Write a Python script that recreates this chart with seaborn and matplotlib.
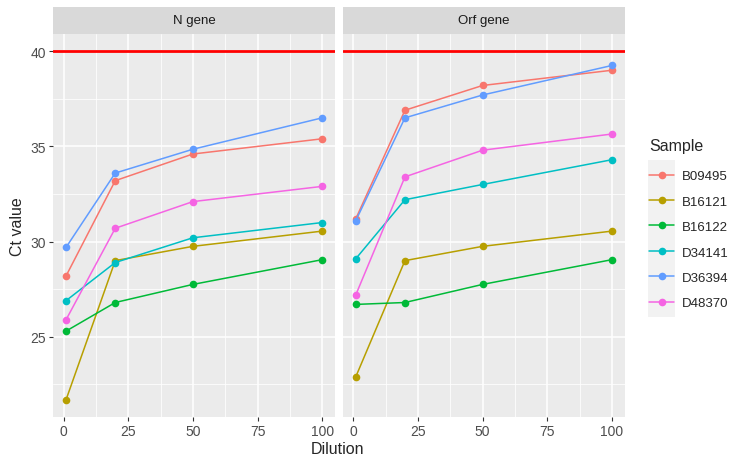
import matplotlib
matplotlib.use("Agg")
import matplotlib.pyplot as plt
import numpy as np
import pandas as pd
import seaborn as sns
from matplotlib.patches import Rectangle
from matplotlib.ticker import MultipleLocator

# ---- data -----------------------------------------------------------------------
dilution = [1, 20, 50, 100]
samples = ['B09495', 'B16121', 'B16122', 'D34141', 'D36394', 'D48370']
genes = ['N gene', 'Orf gene']

n_gene_ct = {
    'B09495': [28.2, 33.2, 34.6, 35.4],
    'B16121': [21.7, 29.0, 29.75, 30.55],
    'B16122': [25.3, 26.8, 27.75, 29.05],
    'D34141': [26.9, 28.9, 30.2, 31.0],
    'D36394': [29.7, 33.6, 34.85, 36.5],
    'D48370': [25.9, 30.7, 32.1, 32.9],
}
orf_gene_ct = {
    'B09495': [31.2, 36.9, 38.2, 39.0],
    'B16121': [22.9, 29.0, 29.75, 30.55],
    'B16122': [26.7, 26.8, 27.75, 29.05],
    'D34141': [29.1, 32.2, 33.0, 34.3],
    'D36394': [31.1, 36.5, 37.7, 39.25],
    'D48370': [27.2, 33.4, 34.8, 35.65],
}
ct_cutoff = 40

palette = ['#F8766D', '#B79F00', '#00BA38', '#00BFC4', '#619CFF', '#F564E3']

rows = []
for gene, table in zip(genes, [n_gene_ct, orf_gene_ct]):
    for s in samples:
        for d, ct in zip(dilution, table[s]):
            rows.append({'Gene': gene, 'Sample': s, 'Dilution': d, 'Ct': ct})
df = pd.DataFrame(rows)

# ---- figure ---------------------------------------------------------------------
sns.set_theme(style='darkgrid')
plt.rcParams['font.family'] = ['Liberation Sans', 'DejaVu Sans']

W, H = 730, 456
fig = plt.figure(figsize=(W / 100, H / 100), dpi=100)


def px_box(x0, y0, x1, y1):
    return [x0 / W, 1 - y1 / H, (x1 - x0) / W, (y1 - y0) / H]


panels = [(53.3, 335.0), (343.0, 624.7)]
ymin, ymax = 20.77, 40.92
xmin, xmax = -3.95, 104.95

for i, (gene, (x0, x1)) in enumerate(zip(genes, panels)):
    ax = fig.add_axes(px_box(x0, 34.7, x1, 418.3))
    ax.set_facecolor('#EBEBEB')
    sub = df[df['Gene'] == gene]
    ax.axhline(ct_cutoff, color='#FF0000', lw=2.0, zorder=2)
    sns.lineplot(data=sub, x='Dilution', y='Ct', hue='Sample', hue_order=samples,
                 palette=palette, marker='o', markersize=5.5, markeredgewidth=0,
                 lw=1.1, legend=False, ax=ax, zorder=3)
    ax.set_xlim(xmin, xmax)
    ax.set_ylim(ymin, ymax)
    ax.xaxis.set_major_locator(MultipleLocator(25))
    ax.xaxis.set_minor_locator(MultipleLocator(12.5))
    ax.yaxis.set_major_locator(MultipleLocator(5))
    ax.yaxis.set_minor_locator(MultipleLocator(2.5))
    ax.grid(which='major', color='white', lw=1.1)
    ax.grid(which='minor', color='white', lw=0.55)
    ax.set_axisbelow(True)
    for sp in ax.spines.values():
        sp.set_visible(False)
    ax.tick_params(axis='both', which='major', length=3, width=0.8, color='#333333',
                   labelsize=10, labelcolor='#4D4D4D', pad=2, bottom=True, left=True)
    ax.tick_params(axis='both', which='minor', length=0)
    ax.set_xlabel('')
    ax.set_ylabel('')
    if i > 0:
        ax.tick_params(axis='y', left=False, labelleft=False)

    # facet strip
    sax = fig.add_axes(px_box(x0, 8.0, x1, 34.7))
    sax.set_facecolor('#D9D9D9')
    sax.set_xticks([])
    sax.set_yticks([])
    for sp in sax.spines.values():
        sp.set_visible(False)
    sax.text(0.5, 0.5, gene, ha='center', va='center', fontsize=9.5, color='#1A1A1A',
             transform=sax.transAxes)

fig.text(337 / W, 1 - 450 / H, 'Dilution', ha='center', va='center', fontsize=11.5)
fig.text(18 / W, 1 - 227 / H, 'Ct value', ha='center', va='center', fontsize=11.5,
         rotation=90)

# legend
fig.patches.append(Rectangle((648 / W, 1 - 318 / H), 27 / W, 157 / H,
                             transform=fig.transFigure, facecolor='#F2F2F2',
                             edgecolor='none', zorder=0))
fig.text(649 / W, 1 - 146 / H, 'Sample', ha='left', va='center', fontsize=11.5)
handles = [plt.Line2D([], [], color=c, lw=1.1, marker='o', markersize=5.5,
                      markeredgewidth=0) for c in palette]
leg = fig.legend(handles, samples, loc='upper left',
                 bbox_to_anchor=(649 / W, 1 - 171 / H), frameon=False,
                 fontsize=9.5, handlelength=1.9, labelspacing=1.0,
                 handletextpad=0.6, borderpad=0.0, borderaxespad=0.0)

fig.savefig('out.png', dpi=100)
